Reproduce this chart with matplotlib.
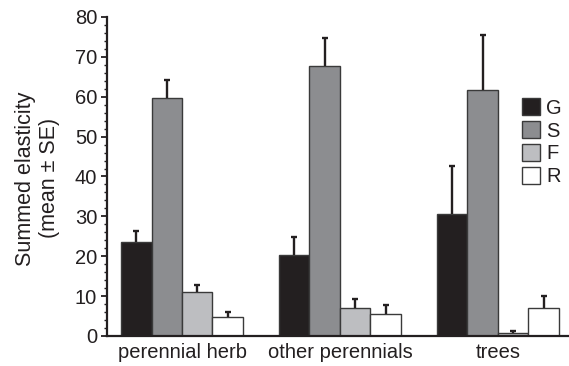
import matplotlib
matplotlib.use("Agg")
import matplotlib.pyplot as plt
import numpy as np
from matplotlib.patches import Patch
from matplotlib.ticker import MultipleLocator

plt.rcParams['font.family'] = ['Liberation Sans', 'DejaVu Sans']

groups = ["perennial herb", "other perennials", "trees"]
series = ["G", "S", "F", "R"]
means = {
    "G": [23.6, 20.4, 30.7],
    "S": [59.6, 67.7, 61.6],
    "F": [11.1, 6.9, 0.7],
    "R": [4.7, 5.4, 7.0],
}
errors = {
    "G": [2.7, 4.4, 11.9],
    "S": [4.6, 7.1, 14.0],
    "F": [1.6, 2.3, 0.6],
    "R": [1.2, 2.4, 3.1],
}
colors = {"G": "#231f20", "S": "#8c8d90", "F": "#bdbec1", "R": "#ffffff"}
ink = "#231f20"
fs = 14.5

fig = plt.figure(figsize=(5.69, 3.66), dpi=100)
ax = fig.add_axes([0.188, 0.082, 0.812, 0.8716])

x = np.arange(len(groups))
w = 0.193
offsets = np.array([-1.5, -0.5, 0.5, 1.5]) * w

for s, off in zip(series, offsets):
    vals = np.array(means[s])
    errs = np.array(errors[s])
    xs = x + off
    ax.bar(xs, vals, width=w, color=colors[s], edgecolor="#3a3a3a",
           linewidth=1.0, zorder=2)
    # upper error whisker with a short cap at its end
    ax.vlines(xs, vals, vals + errs, colors=ink, linewidth=1.7, zorder=3)
    ax.plot(xs, vals + errs, linestyle="none", marker="_", markersize=5,
            markeredgewidth=1.7, color=ink, zorder=3)

ax.set_xlim(-0.475, 2.45)
ax.set_ylim(0, 80)
ax.yaxis.set_major_locator(MultipleLocator(10))
ax.yaxis.set_minor_locator(MultipleLocator(2))
ax.set_xticks(x)
ax.set_xticklabels(groups, fontsize=fs, color=ink)
ax.tick_params(axis="x", length=0, pad=5)
ax.tick_params(axis="y", which="major", length=4, width=1.3, labelsize=fs,
               colors=ink, pad=3)
ax.tick_params(axis="y", which="minor", length=2, width=1.0, colors=ink)

for side in ("top", "right"):
    ax.spines[side].set_visible(False)
for side in ("left", "bottom"):
    ax.spines[side].set_linewidth(1.6)
    ax.spines[side].set_color(ink)

ax.set_ylabel("Summed elasticity\n(mean ± SE)", fontsize=15.5, color=ink,
              linespacing=1.2)
ax.yaxis.set_label_coords(-0.102, 0.494)

handles = [Patch(facecolor=colors[s], edgecolor="#3a3a3a", linewidth=1.0)
           for s in series]
leg = ax.legend(handles, series, loc="upper left", bbox_to_anchor=(0.898, 0.745),
                frameon=False, fontsize=fs, handlelength=0.9, handleheight=0.9,
                handletextpad=0.3, labelspacing=0.18, borderpad=0, borderaxespad=0)
for t in leg.get_texts():
    t.set_color(ink)

fig.savefig("out.png", dpi=100)
